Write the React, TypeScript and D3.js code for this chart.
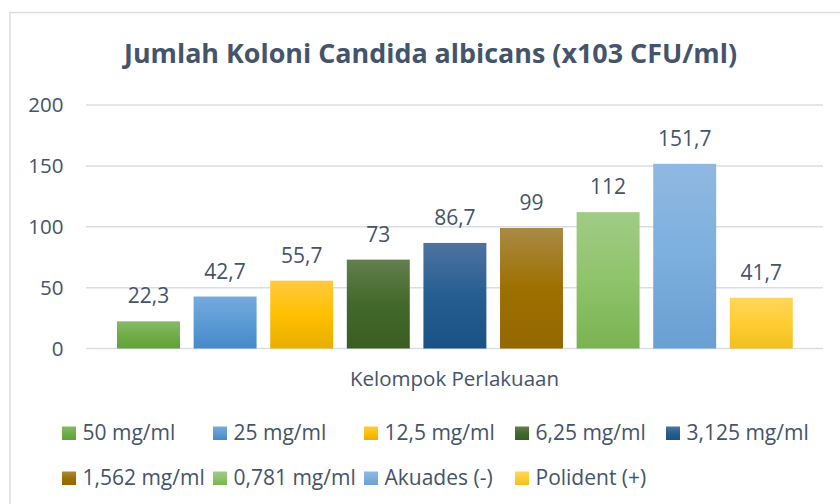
import React from "react";
import * as d3 from "d3";

const seriesNames: string[] = [
  "50 mg/ml",
  "25 mg/ml",
  "12,5 mg/ml",
  "6,25 mg/ml",
  "3,125 mg/ml",
  "1,562 mg/ml",
  "0,781 mg/ml",
  "Akuades (-)",
  "Polident (+)",
];
const seriesValues: number[] = [22.3, 42.7, 55.7, 73, 86.7, 99, 112, 151.7, 41.7];
const valueLabels: string[] = ["22,3", "42,7", "55,7", "73", "86,7", "99", "112", "151,7", "41,7"];
const yTicks: number[] = [0, 50, 100, 150, 200];
const title = "Jumlah Koloni Candida albicans (x103 CFU/ml)";
const axisTitle = "Kelompok Perlakuaan";

// gradient stops: [top, middle, bottom]
const seriesGradients: string[][] = [
  ["#86BA67", "#70AD47", "#62A13A"],
  ["#76AADD", "#5B9BD5", "#4888C8"],
  ["#FFC93E", "#FFC000", "#E8AE00"],
  ["#627F4E", "#43682B", "#3A5E22"],
  ["#4F72A0", "#255E91", "#1B5186"],
  ["#A88A45", "#9E7000", "#936800"],
  ["#A0CC86", "#8FC36C", "#7AB352"],
  ["#90B9E2", "#7CAFDD", "#6A9FD3"],
  ["#FFD659", "#FFCD33", "#F0C020"],
];

const TEXT = "#44546A";
const FONT = "'Open Sans', 'Noto Sans', sans-serif";

export default function App() {
  const W = 840;
  const H = 504;
  const plotLeft = 86;
  const plotRight = 823;

  const x = d3
    .scaleBand<string>()
    .domain(seriesNames)
    .range([110.2, 799.6])
    .paddingInner(0.178)
    .paddingOuter(0.089);

  const y = d3.scaleLinear().domain([0, 200]).range([348.5, 105]);

  const legendCols = 5;
  const legendX0 = 62;
  const legendStep = 151;
  const legendRows = [440, 485];

  return (
    <svg
      width={W}
      height={H}
      viewBox={`0 0 ${W} ${H}`}
      style={{ position: "absolute", left: 0, top: 0, display: "block", background: "#fff" }}
      fontFamily={FONT}
    >
      <defs>
        {seriesGradients.map((g, i) => (
          <linearGradient key={i} id={`grad${i}`} x1="0" y1="0" x2="0" y2="1">
            <stop offset="0%" stopColor={g[0]} />
            <stop offset="50%" stopColor={g[1]} />
            <stop offset="100%" stopColor={g[2]} />
          </linearGradient>
        ))}
      </defs>
      <rect x={0} y={0} width={W} height={H} fill="#fff" />
      {/* chart border */}
      <rect x={10} y={12.5} width={W + 20} height={H + 20} fill="none" stroke="#D9DEE5" strokeWidth={1.5} />

      <text
        x={430.5}
        y={62.5}
        textAnchor="middle"
        fontSize={27}
        fontWeight={700}
        fill={TEXT}
        textLength={613}
        lengthAdjust="spacingAndGlyphs"
      >
        {title}
      </text>

      {/* gridlines and y tick labels */}
      {yTicks.map((t) => (
        <g key={t}>
          <line x1={plotLeft} x2={plotRight} y1={y(t)} y2={y(t)} stroke="#D9DEE5" strokeWidth={1.5} />
          <text x={63.5} y={y(t)} dy="0.35em" textAnchor="end" fontSize={20.5} fill={TEXT}>
            {t}
          </text>
        </g>
      ))}

      {/* bars */}
      {seriesNames.map((s, i) => {
        const v = seriesValues[i];
        const bx = x(s) as number;
        const bw = x.bandwidth();
        return (
          <g key={s}>
            <rect x={bx} y={y(v)} width={bw} height={y(0) - y(v)} fill={`url(#grad${i})`} />
            <text x={bx + bw / 2} y={y(v) - 18} textAnchor="middle" fontSize={21} fill={TEXT}>
              {valueLabels[i]}
            </text>
          </g>
        );
      })}

      <text x={(plotLeft + plotRight) / 2} y={385.7} textAnchor="middle" fontSize={20.5} fill={TEXT}>
        {axisTitle}
      </text>

      {/* legend */}
      {seriesNames.map((s, i) => {
        const col = i % legendCols;
        const row = Math.floor(i / legendCols);
        const lx = legendX0 + col * legendStep;
        const base = legendRows[row];
        return (
          <g key={`lg-${s}`}>
            <rect x={lx} y={base - 13.5} width={14} height={13.5} fill={`url(#grad${i})`} />
            <text x={lx + 20.5} y={base} fontSize={21} fill={TEXT}>
              {s}
            </text>
          </g>
        );
      })}
    </svg>
  );
}
